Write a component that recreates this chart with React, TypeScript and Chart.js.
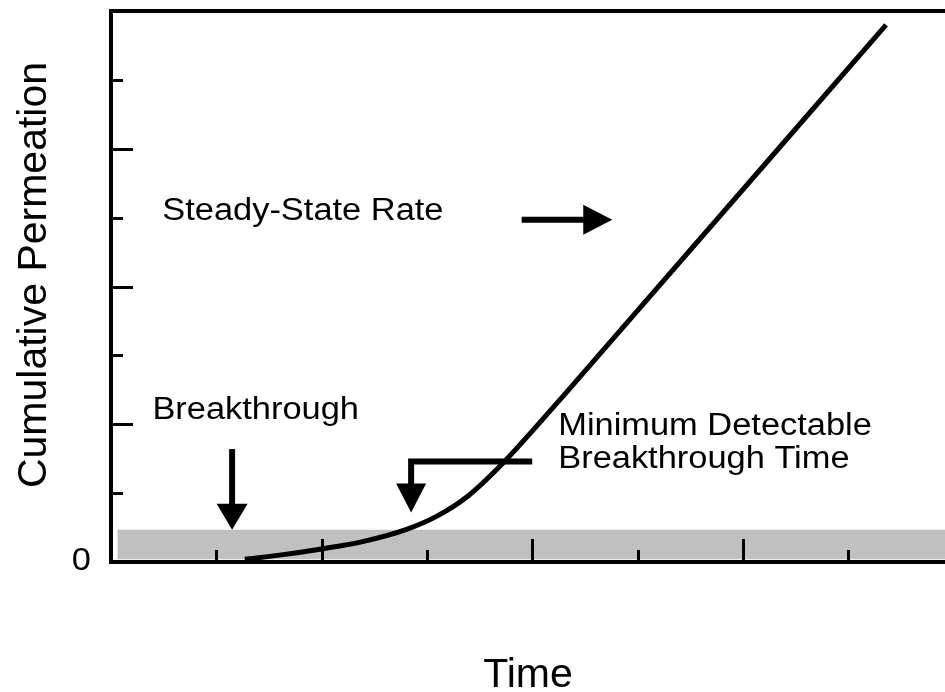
import React, { useEffect, useRef } from "react";
import { Chart, registerables } from "chart.js";

Chart.register(...registerables);

// ---- data ----
const timeValues = [1.27, 1.6, 2.0, 2.4, 2.8, 3.1, 3.4, 3.7, 4.0, 4.3, 7.36];
const permeationValues = [0.04, 0.1, 0.19, 0.3, 0.47, 0.67, 0.97, 1.4, 1.9, 2.42, 7.8];

const xMin = 0;
const xMax = 7.92;
const yMin = 0;
const yMax = 8;

const xTickValues = [1, 2, 3, 4, 5, 6, 7];
const yTickValues = [1, 2, 3, 4, 5, 6, 7];
const yTickLabelValues = [0];
const yTickLabels = ["0"];

const bandStart = 0.06;
const bandLow = 0.04;
const bandHigh = 0.47;

const xAxisTitle = "Time";
const yAxisTitle = "Cumulative Permeation";

const FONT = '"Liberation Sans", Arial, Helvetica, sans-serif';

function drawText(ctx: CanvasRenderingContext2D, text: string, px: number, py: number, size: number, sx: number, align: CanvasTextAlign) {
  ctx.save();
  ctx.translate(px, py);
  ctx.scale(sx, 1);
  ctx.font = `${size}px ${FONT}`;
  ctx.textAlign = align;
  ctx.textBaseline = "alphabetic";
  ctx.fillStyle = "#000";
  ctx.fillText(text, 0, 0);
  ctx.restore();
}

function drawArrow(ctx: CanvasRenderingContext2D, pts: number[][], headLen: number, headHalf: number, shaftW: number) {
  const n = pts.length;
  const [tx, ty] = pts[n - 1];
  const [px, py] = pts[n - 2];
  const d = Math.hypot(tx - px, ty - py);
  const ux = (tx - px) / d;
  const uy = (ty - py) / d;
  const bx = tx - ux * headLen;
  const by = ty - uy * headLen;
  ctx.save();
  ctx.strokeStyle = "#000";
  ctx.fillStyle = "#000";
  ctx.lineWidth = shaftW;
  ctx.lineCap = "butt";
  ctx.lineJoin = "miter";
  ctx.beginPath();
  ctx.moveTo(pts[0][0], pts[0][1]);
  for (let i = 1; i < n - 1; i++) ctx.lineTo(pts[i][0], pts[i][1]);
  ctx.lineTo(bx + ux * 1, by + uy * 1);
  ctx.stroke();
  ctx.beginPath();
  ctx.moveTo(tx, ty);
  ctx.lineTo(bx - uy * headHalf, by + ux * headHalf);
  ctx.lineTo(bx + uy * headHalf, by - ux * headHalf);
  ctx.closePath();
  ctx.fill();
  ctx.restore();
}

const overlay = {
  id: "overlay",
  afterDatasetsDraw(chart: any) {
    const { ctx, chartArea: a, scales } = chart;
    const x = scales.x;
    const y = scales.y;
    ctx.save();
    ctx.strokeStyle = "#000";
    ctx.lineJoin = "miter";
    // frame: top, left, bottom
    ctx.lineWidth = 4;
    ctx.beginPath();
    ctx.moveTo(a.right + 2, a.top);
    ctx.lineTo(a.left, a.top);
    ctx.lineTo(a.left, a.bottom);
    ctx.lineTo(a.right + 2, a.bottom);
    ctx.stroke();
    // ticks
    ctx.lineWidth = 3;
    xTickValues.forEach((v) => {
      const px = Math.round(x.getPixelForValue(v)) + 0.5;
      const len = v % 2 === 0 ? 23 : 12;
      ctx.beginPath();
      ctx.moveTo(px, a.bottom);
      ctx.lineTo(px, a.bottom - len);
      ctx.stroke();
    });
    yTickValues.forEach((v) => {
      const py = Math.round(y.getPixelForValue(v)) + 0.5;
      const len = v % 2 === 0 ? 22 : 12;
      ctx.beginPath();
      ctx.moveTo(a.left, py);
      ctx.lineTo(a.left + len, py);
      ctx.stroke();
    });
    ctx.restore();

    // tick labels
    yTickLabelValues.forEach((v, i) => {
      drawText(ctx, yTickLabels[i], a.left - 20, y.getPixelForValue(v) + 8, 31, 1.11, "right");
    });

    // axis titles
    drawText(ctx, xAxisTitle, (a.left + a.right) / 2, 687, 41, 1, "center");
    ctx.save();
    ctx.translate(46, 275);
    ctx.rotate(-Math.PI / 2);
    ctx.font = `41px ${FONT}`;
    ctx.textAlign = "center";
    ctx.textBaseline = "alphabetic";
    ctx.fillStyle = "#000";
    ctx.fillText(yAxisTitle, 0, 0);
    ctx.restore();

    // annotations
    const X = (v: number) => x.getPixelForValue(v);
    const Y = (v: number) => y.getPixelForValue(v);
    drawText(ctx, "Steady-State Rate", X(0.487), Y(4.97), 31, 1.11, "left");
    drawText(ctx, "Breakthrough", X(0.393), Y(2.08), 31, 1.11, "left");
    drawText(ctx, "Minimum Detectable", X(4.247), Y(1.85), 31, 1.11, "left");
    drawText(ctx, "Breakthrough Time", X(4.247), Y(1.37), 31, 1.11, "left");

    drawArrow(ctx, [[X(3.9), Y(4.97)], [X(4.76), Y(4.97)]], 29, 15, 6);
    drawArrow(ctx, [[X(1.15), Y(1.64)], [X(1.15), Y(0.47)]], 26, 15.5, 6);
    drawArrow(ctx, [[X(4.0), Y(1.46)], [X(2.85), Y(1.46)], [X(2.85), Y(0.72)]], 29, 15, 6);
  },
};

export default function App() {
  const ref = useRef<HTMLCanvasElement | null>(null);
  useEffect(() => {
    if (!ref.current) return;
    const chart = new Chart(ref.current, {
      type: "line",
      data: {
        datasets: [
          {
            data: timeValues.map((t, i) => ({ x: t, y: permeationValues[i] })),
            borderColor: "#000",
            borderWidth: 5,
            borderCapStyle: "butt",
            pointRadius: 0,
            cubicInterpolationMode: "monotone",
            fill: false,
          },
          {
            data: [
              { x: bandStart, y: bandHigh },
              { x: xMax, y: bandHigh },
            ],
            borderWidth: 0,
            borderColor: "rgba(0,0,0,0)",
            backgroundColor: "#c0c0c0",
            pointRadius: 0,
            fill: { value: bandLow },
          },
        ],
      } as any,
      options: {
        animation: false,
        responsive: false,
        devicePixelRatio: 1,
        layout: { padding: { left: 111, top: 11, right: 0, bottom: 130 } },
        scales: {
          x: { type: "linear", display: false, min: xMin, max: xMax },
          y: { type: "linear", display: false, min: yMin, max: yMax },
        },
        plugins: { legend: { display: false }, tooltip: { enabled: false } },
      } as any,
      plugins: [overlay],
    });
    return () => chart.destroy();
  }, []);
  return (
    <div style={{ position: "absolute", left: 0, top: 0, width: 945, height: 692, background: "#fff" }}>
      <canvas ref={ref} width={945} height={692} style={{ display: "block" }} />
    </div>
  );
}
